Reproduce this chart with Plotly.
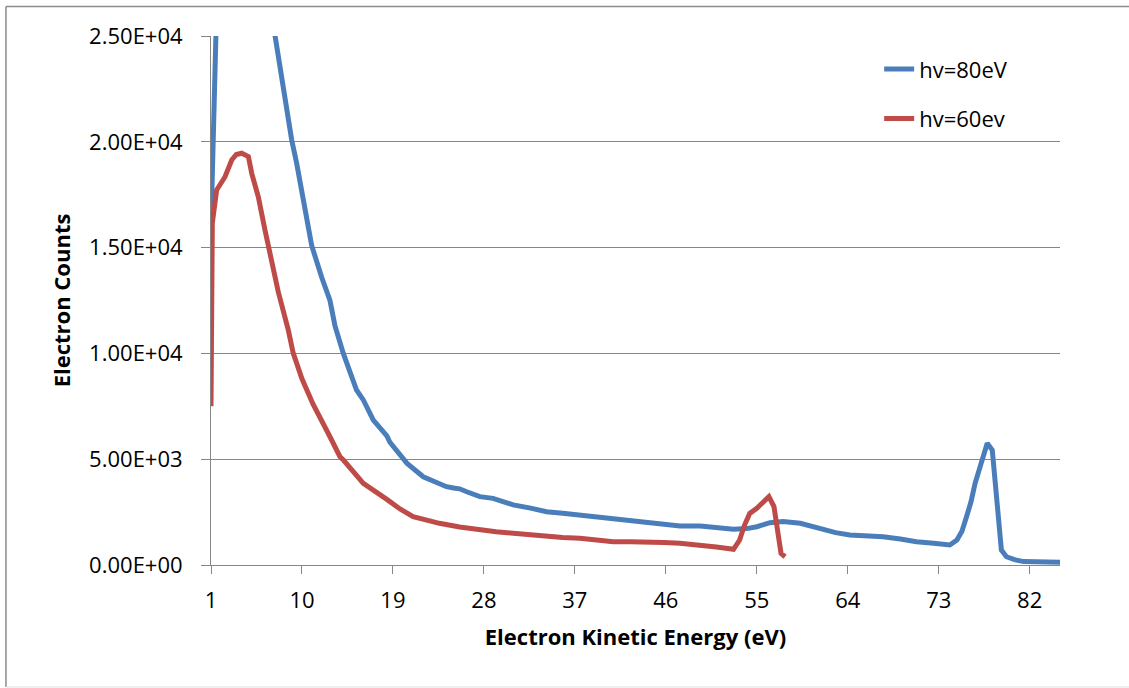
import plotly.graph_objects as go

# hv = 80 eV series
e80 = [1.0, 1.15, 1.35, 1.7, 2.3, 3.0, 3.8, 4.6, 5.5, 6.4, 7.33, 7.83, 8.32, 8.98, 9.47,
       10.3, 10.96, 11.95, 12.77, 13.27, 14.09, 15.4, 16.07, 17.06, 18.4, 18.7, 20.0, 20.4,
       22.0, 22.7, 24.3, 25.0, 25.6, 26.3, 27.6, 28.9, 30.9, 32.5, 34.2, 35.8, 37.5, 39.1,
       40.8, 42.5, 44.1, 45.8, 47.4, 49.4, 51.0, 52.7, 54.0, 55.0, 56.3, 57.6, 59.3, 60.5,
       61.6, 62.8, 64.2, 65.8, 67.5, 69.2, 70.8, 72.5, 74.1, 74.8, 75.3, 75.75, 76.2, 76.6,
       77.0, 77.4, 77.8, 78.3, 78.5, 78.7, 79.0, 79.2, 79.7, 80.5, 81.4, 83.0, 84.8, 85.0]
c80 = [16000, 21000, 25500, 29000, 31500, 33000, 33500, 32500, 30500, 27800, 25000, 23700,
       22100, 20100, 19000, 16900, 15100, 13600, 12500, 11300, 10000, 8270, 7800, 6850,
       6100, 5800, 4960, 4800, 4170, 4020, 3700, 3640, 3600, 3460, 3230, 3150, 2840, 2700,
       2520, 2450, 2360, 2230, 2130, 2060, 2000, 1920, 1840, 1840, 1780, 1690, 1720, 1810,
       2000, 2050, 1970, 1820, 1650, 1530, 1420, 1390, 1340, 1230, 1100, 1030, 945, 1180,
       1600, 2280, 3000, 3860, 4500, 5280, 5750, 5430, 4400, 3070, 1700, 710, 390, 250,
       160, 140, 125, 125]

# hv = 60 eV series
e60 = [1.0, 1.05, 1.13, 1.56, 2.39, 3.05, 3.5, 4.04, 4.7, 5.03, 5.68, 6.34, 7.0, 7.66,
       8.65, 9.14, 10.0, 11.1, 12.77, 13.76, 14.1, 15.7, 16.07, 18.4, 19.7, 21.0, 22.3,
       23.6, 25.6, 27.6, 29.2, 30.9, 32.5, 34.2, 35.8, 37.5, 39.1, 40.8, 42.5, 44.1, 45.8,
       47.4, 49.4, 51.0, 52.7, 53.3, 53.8, 54.3, 55.0, 55.6, 56.2, 56.7, 57.1, 57.4, 57.8]
c60 = [7500, 11500, 16150, 17720, 18350, 19140, 19400, 19460, 19300, 18510, 17400, 15830,
       14260, 12900, 11100, 10000, 8800, 7600, 6060, 5120, 4960, 4020, 3860, 3100, 2650,
       2280, 2100, 1970, 1800, 1650, 1570, 1500, 1420, 1340, 1300, 1260, 1180, 1100, 1100,
       1100, 1060, 1025, 945, 850, 740, 1180, 1900, 2440, 2680, 2920, 3230, 2760, 1500,
       550, 390]

series_names = ["hv=80eV", "hv=60ev"]
series_colors = ["#4A7EBB", "#BE4B48"]

x_ticks = [1, 10, 19, 28, 37, 46, 55, 64, 73, 82]
y_ticks = [0, 5000, 10000, 15000, 20000, 25000]
y_tick_text = ["0.00E+00", "5.00E+03", "1.00E+04", "1.50E+04", "2.00E+04", "2.50E+04"]

FONT = "Open Sans"
FS = 22

fig = go.Figure()
for xs, ys, name, col, grp in [(e80, c80, series_names[0], series_colors[0], "a"),
                                (e60, c60, series_names[1], series_colors[1], "b")]:
    fig.add_trace(go.Scatter(x=xs, y=ys, mode="lines", name=name, legendgroup=grp,
                             line=dict(color=col, width=5)))

fig.update_layout(
    width=1129, height=688,
    margin=dict(l=211, r=69, t=36, b=123),
    paper_bgcolor="white", plot_bgcolor="white",
    font=dict(family=FONT, size=FS, color="black"),
    showlegend=True,
    legend=dict(x=0.787, y=0.977, xanchor="left", yanchor="top",
                font=dict(family=FONT, size=FS, color="black"),
                tracegroupgap=18, bgcolor="rgba(0,0,0,0)", itemwidth=30),
    xaxis=dict(range=[1, 85], tickmode="array", tickvals=x_ticks,
               ticktext=[str(v) for v in x_ticks],
               showgrid=False, zeroline=False, showline=True, linecolor="#868686",
               linewidth=1, ticks="outside", ticklen=8, tickcolor="#868686",
               ticklabelstandoff=8,
               tickfont=dict(family=FONT, size=FS),
               title=dict(text="<b>Electron Kinetic Energy (eV)</b>", standoff=16,
                          font=dict(family=FONT, size=FS)),
               automargin=False),
    yaxis=dict(range=[0, 25000], tickmode="array", tickvals=y_ticks, ticktext=y_tick_text,
               showgrid=True, gridcolor="#868686", gridwidth=1, zeroline=False,
               showline=True, linecolor="#868686", linewidth=1, ticks="outside",
               ticklen=9, tickcolor="#868686", ticklabelstandoff=14,
               tickfont=dict(family=FONT, size=FS),
               title=dict(text="<b>Electron Counts</b>", standoff=12,
                          font=dict(family=FONT, size=FS)),
               automargin=False),
)

# outer chart border
fig.add_shape(type="line", xref="paper", yref="paper", x0=-0.2415, x1=-0.2415,
              y0=-0.2306, y1=1.0558, line=dict(color="#8c8c8c", width=1.5))
fig.add_shape(type="line", xref="paper", yref="paper", x0=-0.2415, x1=1.09,
              y0=1.0558, y1=1.0558, line=dict(color="#8c8c8c", width=1.5))
fig.add_shape(type="line", xref="paper", yref="paper", x0=-0.2415, x1=1.09,
              y0=-0.2306, y1=-0.2306, line=dict(color="#e0e0e0", width=1))

fig.write_html("out.html")
